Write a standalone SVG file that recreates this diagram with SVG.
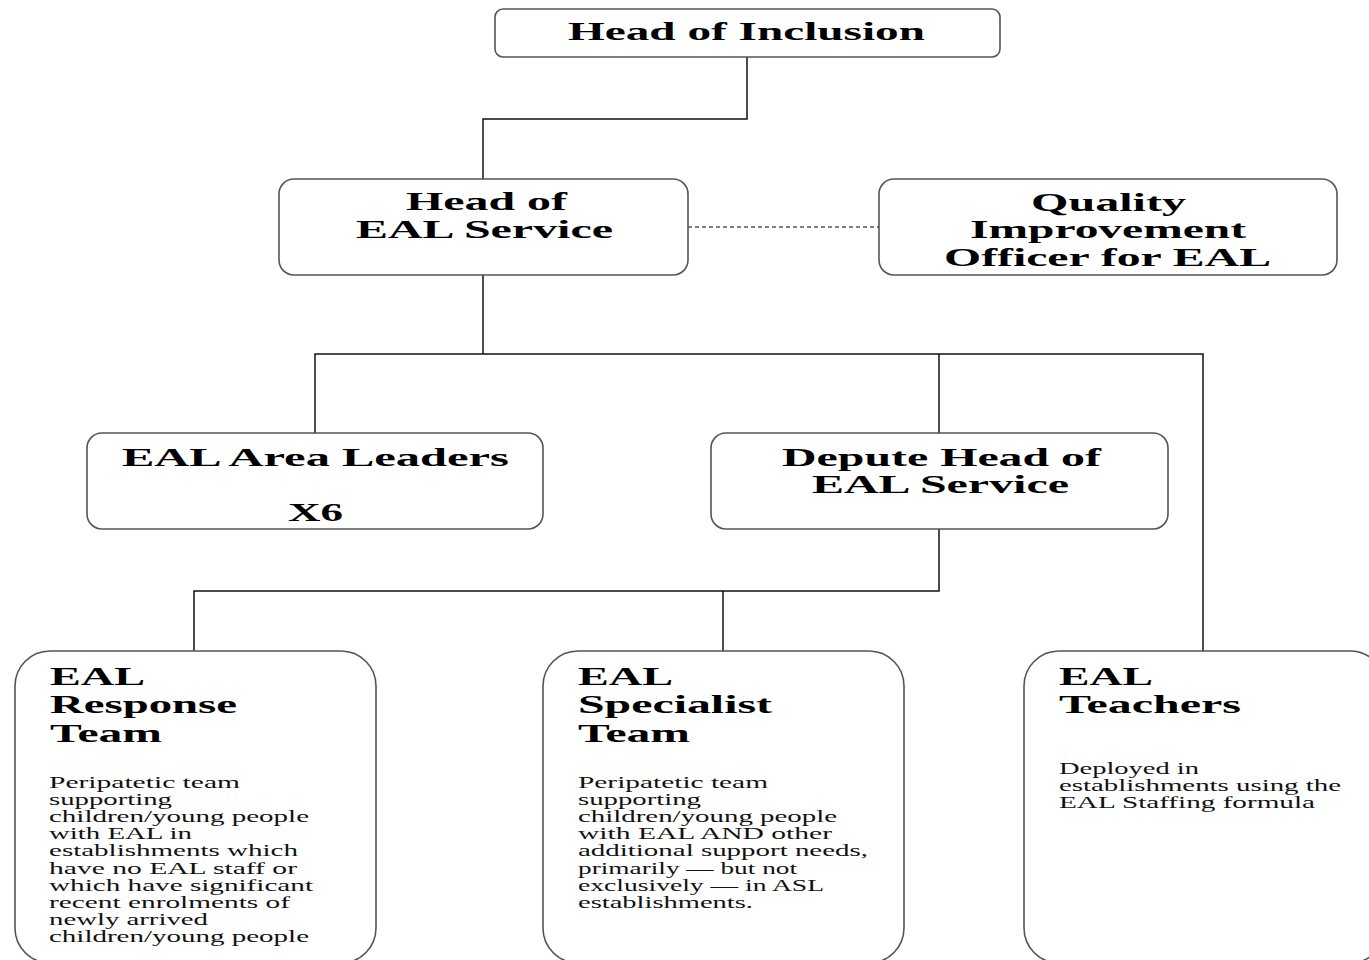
<svg xmlns="http://www.w3.org/2000/svg" width="1369" height="960" viewBox="0 0 1369 960">
<style>
.box{fill:#fff;stroke:#555;stroke-width:1.6}
.t{font-family:"Liberation Serif","Times New Roman",serif;font-weight:bold;font-size:26px;fill:#000}
.b{font-family:"Liberation Serif","Times New Roman",serif;font-size:16px;fill:#111}
.ln{fill:none;stroke:#111;stroke-width:1.5}
.dash{fill:none;stroke:#555;stroke-width:1.5;stroke-dasharray:4 3}
</style>
<rect width="1369" height="960" fill="#fff"/>
<g id="connectors">
<polyline class="ln" points="747,57 747,119 483,119 483,179"/>
<line class="dash" x1="688" y1="227" x2="879" y2="227"/>
<line class="ln" x1="483" y1="275" x2="483" y2="354"/>
<polyline class="ln" points="315,433 315,354 1203,354 1203,651"/>
<line class="ln" x1="939" y1="354" x2="939" y2="433"/>
<polyline class="ln" points="939,529 939,591 194,591 194,651"/>
<line class="ln" x1="723" y1="591" x2="723" y2="651"/>
</g>
<g id="head-of-inclusion">
<rect class="box" x="495" y="9" width="505" height="48" rx="8"/>
<text class="t" x="568" y="40" textLength="357" lengthAdjust="spacingAndGlyphs">Head of Inclusion</text>
</g>
<g id="head-of-eal-service">
<rect class="box" x="279" y="179" width="409" height="96" rx="15"/>
<text class="t" x="406" y="210" textLength="161" lengthAdjust="spacingAndGlyphs">Head of</text>
<text class="t" x="356" y="238" textLength="257" lengthAdjust="spacingAndGlyphs">EAL Service</text>
</g>
<g id="quality-improvement-officer">
<rect class="box" x="879" y="179" width="458" height="96" rx="15"/>
<text class="t" x="1031" y="211" textLength="155" lengthAdjust="spacingAndGlyphs">Quality</text>
<text class="t" x="970" y="238" textLength="276" lengthAdjust="spacingAndGlyphs">Improvement</text>
<text class="t" x="944" y="266" textLength="327" lengthAdjust="spacingAndGlyphs">Officer for EAL</text>
</g>
<g id="eal-area-leaders">
<rect class="box" x="87" y="433" width="456" height="96" rx="15"/>
<text class="t" x="122" y="466" textLength="387" lengthAdjust="spacingAndGlyphs">EAL Area Leaders</text>
<text class="t" x="288" y="521" textLength="55" lengthAdjust="spacingAndGlyphs">X6</text>
</g>
<g id="depute-head">
<rect class="box" x="711" y="433" width="457" height="96" rx="15"/>
<text class="t" x="782" y="466" textLength="319" lengthAdjust="spacingAndGlyphs">Depute Head of</text>
<text class="t" x="812" y="493" textLength="257" lengthAdjust="spacingAndGlyphs">EAL Service</text>
</g>
<g id="eal-response-team">
<rect class="box" x="15" y="651" width="361" height="312" rx="35"/>
<text class="t" x="50" y="685" textLength="95" lengthAdjust="spacingAndGlyphs">EAL</text>
<text class="t" x="50" y="713" textLength="187" lengthAdjust="spacingAndGlyphs">Response</text>
<text class="t" x="50" y="742" textLength="112" lengthAdjust="spacingAndGlyphs">Team</text>
<text class="b" x="49" y="788" textLength="191" lengthAdjust="spacingAndGlyphs">Peripatetic team</text>
<text class="b" x="49" y="805" textLength="123" lengthAdjust="spacingAndGlyphs">supporting</text>
<text class="b" x="49" y="822" textLength="260" lengthAdjust="spacingAndGlyphs">children/young people</text>
<text class="b" x="49" y="839" textLength="143" lengthAdjust="spacingAndGlyphs">with EAL in</text>
<text class="b" x="49" y="856" textLength="249" lengthAdjust="spacingAndGlyphs">establishments which</text>
<text class="b" x="49" y="874" textLength="248" lengthAdjust="spacingAndGlyphs">have no EAL staff or</text>
<text class="b" x="49" y="891" textLength="264" lengthAdjust="spacingAndGlyphs">which have significant</text>
<text class="b" x="49" y="908" textLength="241" lengthAdjust="spacingAndGlyphs">recent enrolments of</text>
<text class="b" x="49" y="925" textLength="159" lengthAdjust="spacingAndGlyphs">newly arrived</text>
<text class="b" x="49" y="942" textLength="260" lengthAdjust="spacingAndGlyphs">children/young people</text>
</g>
<g id="eal-specialist-team">
<rect class="box" x="543" y="651" width="361" height="312" rx="35"/>
<text class="t" x="578" y="685" textLength="95" lengthAdjust="spacingAndGlyphs">EAL</text>
<text class="t" x="578" y="713" textLength="194" lengthAdjust="spacingAndGlyphs">Specialist</text>
<text class="t" x="578" y="742" textLength="112" lengthAdjust="spacingAndGlyphs">Team</text>
<text class="b" x="578" y="788" textLength="190" lengthAdjust="spacingAndGlyphs">Peripatetic team</text>
<text class="b" x="578" y="805" textLength="123" lengthAdjust="spacingAndGlyphs">supporting</text>
<text class="b" x="578" y="822" textLength="259" lengthAdjust="spacingAndGlyphs">children/young people</text>
<text class="b" x="578" y="839" textLength="254" lengthAdjust="spacingAndGlyphs">with EAL AND other</text>
<text class="b" x="578" y="856" textLength="290" lengthAdjust="spacingAndGlyphs">additional support needs,</text>
<text class="b" x="578" y="874" textLength="219" lengthAdjust="spacingAndGlyphs">primarily — but not</text>
<text class="b" x="578" y="891" textLength="246" lengthAdjust="spacingAndGlyphs">exclusively — in ASL</text>
<text class="b" x="578" y="908" textLength="175" lengthAdjust="spacingAndGlyphs">establishments.</text>
</g>
<g id="eal-teachers">
<rect class="box" x="1024" y="651" width="361" height="312" rx="35"/>
<text class="t" x="1059" y="685" textLength="94" lengthAdjust="spacingAndGlyphs">EAL</text>
<text class="t" x="1059" y="713" textLength="182" lengthAdjust="spacingAndGlyphs">Teachers</text>
<text class="b" x="1059" y="774" textLength="140" lengthAdjust="spacingAndGlyphs">Deployed in</text>
<text class="b" x="1059" y="791" textLength="282" lengthAdjust="spacingAndGlyphs">establishments using the</text>
<text class="b" x="1059" y="808" textLength="256" lengthAdjust="spacingAndGlyphs">EAL Staffing formula</text>
</g>
</svg>
